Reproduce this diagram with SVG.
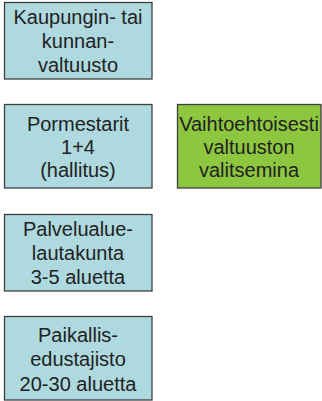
<svg xmlns="http://www.w3.org/2000/svg" width="322" height="401" viewBox="0 0 322 401">
<style>
.b{fill:#add9df;stroke:#3f3f3f;stroke-width:1.3}
.g{fill:#8dc63f;stroke:#3f3f3f;stroke-width:1.3}
text{font-family:"Liberation Sans",Arial,sans-serif;font-size:20px;fill:#222;text-anchor:middle}
</style>
<rect width="322" height="401" fill="#fff"/>
<g id="valtuusto">
<rect class="b" x="4.5" y="2.5" width="147.5" height="76.5"/>
<text x="78" y="24">Kaupungin- tai</text>
<text x="78" y="48">kunnan-</text>
<text x="78" y="72">valtuusto</text>
</g>
<g id="pormestarit">
<rect class="b" x="4.5" y="104.5" width="147.5" height="83.5"/>
<text x="78" y="131">Pormestarit</text>
<text x="78" y="154">1+4</text>
<text x="78" y="177">(hallitus)</text>
</g>
<g id="vaihtoehtoisesti">
<rect class="g" x="177.5" y="104.5" width="143.5" height="83.5"/>
<text x="249" y="131">Vaihtoehtoisesti</text>
<text x="249" y="154">valtuuston</text>
<text x="249" y="177">valitsemina</text>
</g>
<g id="palvelualuelautakunta">
<rect class="b" x="4.5" y="214.5" width="147.5" height="76.5"/>
<text x="78" y="236">Palvelualue-</text>
<text x="78" y="260">lautakunta</text>
<text x="78" y="284">3-5 aluetta</text>
</g>
<g id="paikallisedustajisto">
<rect class="b" x="4.5" y="316.5" width="147.5" height="83.5"/>
<text x="78" y="342">Paikallis-</text>
<text x="78" y="366">edustajisto</text>
<text x="78" y="391">20-30 aluetta</text>
</g>
<g id="connectors"></g>
</svg>
